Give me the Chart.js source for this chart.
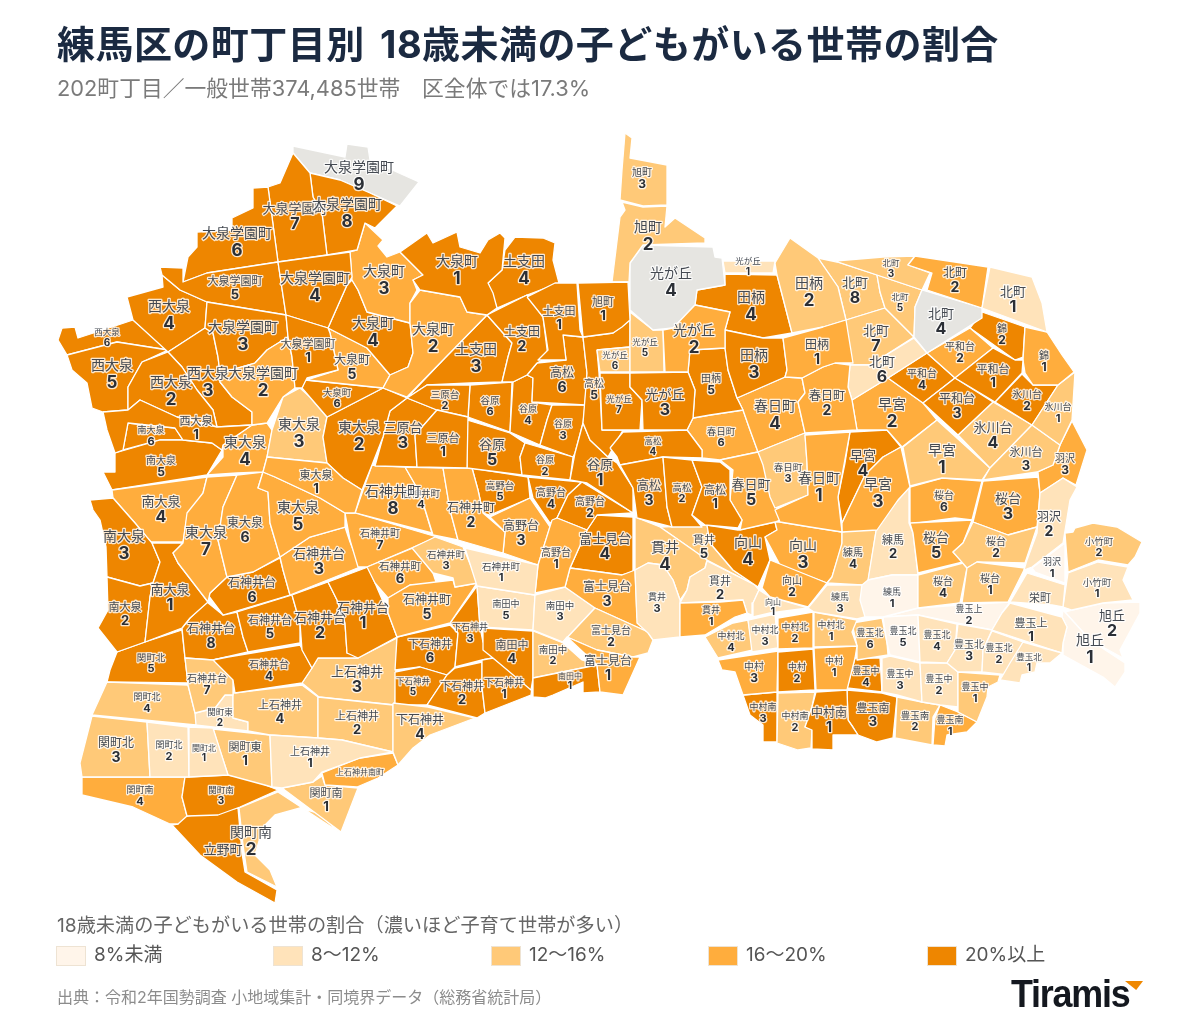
<!DOCTYPE html>
<html lang="ja">
<head>
<meta charset="utf-8">
<title>練馬区の町丁目別 18歳未満の子どもがいる世帯の割合</title>
<script src="https://cdn.jsdelivr.net/npm/chart.js@4"></script>
<style>
html, body { margin: 0; padding: 0; background: #fff; }
body { width: 1200px; height: 1033px; position: relative; overflow: hidden; font-family: Inter, "Noto Sans CJK JP", sans-serif; }
#chart_map { position: absolute; left: 0; top: 0; }
.abs { position: absolute; white-space: nowrap; }
#title { left: 57px; top: 17px; font-size: 38px; font-weight: 700; color: #1b2a41; line-height: 54px; word-spacing: 6px; letter-spacing: 0.45px; }
#subtitle { left: 57px; top: 73px; font-size: 21.8px; color: #7a7a7a; line-height: 30px; }
#legend_title { left: 57px; top: 911px; font-size: 19.2px; color: #666; line-height: 28px; }
.swatch { position: absolute; top: 946px; width: 28px; height: 18px; border: 1px solid #eee3d3; }
.swatch_label { position: absolute; top: 941px; font-size: 19px; color: #555; line-height: 28px; white-space: nowrap; }
#source { left: 57px; top: 986px; font-size: 16px; color: #8c8c8c; line-height: 22px; }
#logo { left: 1011px; top: 972px; font-family: "Liberation Sans", sans-serif; font-size: 39px; font-weight: 700; color: #14181f; line-height: 44px; letter-spacing: -1.3px; transform-origin: left top; transform: scaleX(0.92); }
#logo_mark { left: 1125px; top: 981px; width: 18px; height: 9px; background: #ef8800; clip-path: polygon(0 0, 100% 0, 62% 100%); }
</style>
</head>
<body>
<canvas id="chart_map" width="1200" height="1033"></canvas>
<div id="title" class="abs">練馬区の町丁目別 18歳未満の子どもがいる世帯の割合</div>
<div id="subtitle" class="abs">202町丁目／一般世帯374,485世帯　区全体では17.3%</div>
<div id="legend_title" class="abs">18歳未満の子どもがいる世帯の割合（濃いほど子育て世帯が多い）</div>
<div id="legend_items"></div>
<div id="source" class="abs">出典：令和2年国勢調査 小地域集計・同境界データ（総務省統計局）</div>
<div id="logo" class="abs">Tiramis</div>
<div id="logo_mark" class="abs"></div>
<script>
const bandLabels = ['8%未満', '8〜12%', '12〜16%', '16〜20%', '20%以上']
const bandColors = ['#fff5ea', '#ffe3ba', '#ffc978', '#ffad3d', '#ee8600']
const noDataColor = '#e6e5e1'

// 町丁目はすべて下の配列と同じ順番
const townNames = [
    '大泉学園町', '西大泉', '大泉町', '東大泉', '南大泉', '三原台', '土支田', '旭町', '光が丘', '高松', '田柄', '谷原',
    '春日町', '北町', '平和台', '錦', '氷川台', '早宮', '羽沢', '桜台', '練馬', '向山', '貫井', '中村北', '中村', '中村南',
    '豊玉北', '豊玉中', '豊玉南', '豊玉上', '栄町', '小竹町', '旭丘', '石神井町', '石神井台', '高野台', '富士見台', '南田中',
    '下石神井', '上石神井', '上石神井南町', '関町北', '関町東', '関町南', '立野町'
]
const townChomeCounts = [
    9, 6, 6, 7, 6, 3, 4, 3, 7, 6, 5, 6,
    6, 8, 4, 2, 4, 4, 3, 6, 4, 4, 5, 4, 3, 3,
    6, 4, 3, 2, 0, 2, 2, 8, 8, 5, 4, 5,
    6, 4, 0, 5, 2, 4, 0
]

// 割合の区分 (0〜4)、-1 はデータなし
const townBands = [
    4, 3, 4, 4, 4, 4, 4, 4, -1,
    4, 4, 4, 4, 4, 4,
    4, 3, 3, 4, 3, 4,
    3, 4, 2, 3, 3, 3, 3,
    4, 4, 4, 3, 4, 4,
    4, 4, 4,
    4, 4, 4, 4,
    4, 2, 2,
    1, 3, 4, -1, 2, 2, 4,
    4, 4, 4, 4, 4, 4,
    3, 2, 4, 4, 4,
    4, 4, 4, 4, 4, 4,
    3, 3, 2, 3, 3, 3,
    1, 3, 2, -1, 2, 1, 2, 2,
    4, 3, 4, 4,
    3, 4,
    2, 4, 2, 2,
    2, 3, 3, 4,
    0, 1, 3,
    2, 2, 3, 2, 3, 3,
    0, 1, 1, 2,
    1, 3, 3, 4,
    3, 1, 1, 2, 2,
    2, 3, 1, 2,
    3, 4, 3,
    4, 2, 4,
    1, 1, 1, 1, 0, 2,
    2, 1, 1, 4,
    3, 2, 4,
    1, 0,
    1,
    1, 2,
    0, 0,
    1, 3, 2, 3, 3, 3, 3, 3,
    4, 4, 3, 4, 4, 4, 2, 4,
    3, 4, 3, 4, 4,
    3, 2, 3, 4,
    4, 2, 1, 4, 1,
    4, 4, 4, 2, 4, 4,
    1, 2, 2, 2,
    3,
    1, 1, 2, 2, 4,
    2, 1,
    2, 2, 4, 3,
    4
]

// 各町丁目の輪郭 [x, y, x, y, ...]
const townOutlines = [
    // 大泉学園町
    [286,315,328,328,330,333,338,370,307,378,302,388,295,388,292,357,288,337],
    [255,363,267,350,288,337,292,357,295,388,283,397,267,423,252,425,252,412,232,397,220,382,220,373],
    [207,302,286,315,288,337,267,350,255,363,220,373,218,357,213,333,205,328],
    [278,262,350,252,352,277,347,285,328,328,286,315],
    [160,267,183,268,183,282,207,273,278,262,286,315,207,302,180,290,162,275],
    [268,187,278,262,207,273,183,282,188,257,197,247,197,232,232,230,232,218,253,208,253,188],
    [293,153,310,173,313,197,322,213,327,255,278,262,268,187,280,183],
    [310,173,340,180,370,193,397,206,375,228,365,223,357,250,327,255,322,213,313,197],
    [293,146,345,157,347,144,368,147,370,160,419,182,400,206,370,193,340,180,310,173,293,153],
    // 西大泉
    [103,412,128,410,140,400,177,417,217,427,252,425,223,445,222,450,212,443,183,440,175,428,128,423,123,450,115,453,107,430],
    [142,362,168,352,182,367,197,390,213,410,217,427,177,417,140,400,128,410,128,387],
    [168,352,205,328,213,333,218,357,220,373,220,382,232,397,252,412,252,425,217,427,213,410,197,390,182,367],
    [127,297,163,287,162,275,180,290,207,302,205,328,168,352,133,320],
    [67,355,117,342,168,350,142,362,128,387,128,410,103,412,92,408,87,383,72,370],
    [62,328,75,327,78,338,112,327,133,320,168,350,117,342,67,355,58,340],
    // 大泉町
    [400,252,427,233,433,243,457,232,460,247,480,253,488,240,500,233,505,238,502,270,488,283,493,293,497,308,487,315,467,312,460,297,420,290,413,280,423,275],
    [410,303,420,290,460,297,467,312,487,315,443,360,407,397,383,388,390,375,408,367,413,353,410,323],
    [365,223,383,240,378,246,387,257,400,252,423,275,413,280,417,290,410,303,410,323,367,312,358,290,352,280,350,252,357,250],
    [352,280,358,290,367,312,410,323,413,353,408,367,390,375,367,348,328,328,347,285],
    [328,328,367,348,390,375,383,388,307,380,338,370,330,333],
    [305,380,383,388,327,417,302,388],
    // 東大泉
    [267,457,327,463,343,478,362,490,355,513,345,513,320,498,275,477,263,472],
    [327,417,383,388,407,398,390,411,383,437,372,465,362,490,343,478,327,463,323,437],
    [300,388,310,397,327,417,323,437,327,463,267,457,272,430,283,397],
    [207,475,223,457,223,445,252,425,267,423,272,430,267,457,263,472,237,473],
    [263,472,275,477,320,498,345,513,345,527,310,537,280,557,270,523,268,492,258,488],
    [237,475,263,472,258,488,268,492,270,523,280,557,253,572,227,577,218,540,223,507],
    [237,475,223,507,218,540,227,577,210,593,208,602,178,563,173,553,183,543,187,513,203,493,207,477],
    // 南大泉
    [152,543,183,543,173,553,178,563,208,602,190,618,182,628,145,642,150,597,153,583,160,562],
    [107,577,140,586,153,583,150,597,145,642,117,652,98,628,108,610],
    [90,500,113,498,135,523,152,543,160,562,153,583,140,586,107,577,106,547,100,520,93,510],
    [112,490,207,477,203,493,187,517,183,542,150,542,135,523,113,498],
    [115,453,160,440,183,440,212,443,222,450,207,475,112,490,103,472,115,472],
    [128,423,175,428,183,440,160,440,123,450],
    // 三原台
    [437,410,468,417,467,468,417,467,415,435],
    [407,398,427,385,470,385,468,417,437,410],
    [407,398,437,410,415,435,417,467,375,466,383,437,390,411],
    // 土支田
    [527,297,555,283,577,283,580,330,583,337,563,335,566,360,538,360,548,350,543,317],
    [487,315,527,295,543,317,548,357,537,363,527,375,513,382,502,382,508,357,512,343,503,333],
    [487,315,503,333,512,343,508,357,502,382,470,383,427,385,407,398,443,360],
    [515,237,543,238,555,243,553,260,559,283,527,295,497,308,488,283,502,270,505,250],
    // 旭町
    [578,283,628,282,630,320,622,327,613,333,583,337],
    [622,202,643,207,667,206,665,227,675,218,705,238,705,243,643,245,630,263,629,282,612,282,620,217,625,210],
    [625,133,632,138,630,158,667,165,667,205,643,206,620,200,622,170],
    // 光が丘
    [723,261,775,261,773,273,725,273],
    [695,305,730,312,725,330,725,348,690,350,688,372,665,372,663,330,673,328],
    [630,373,688,372,695,390,693,418,687,430,643,430,642,400,630,387],
    [643,245,713,247,715,257,722,258,725,285,697,290,695,305,673,328,653,330,630,310,630,263],
    [630,312,653,330,663,330,664,372,630,372],
    [597,350,630,347,630,372,600,372],
    [600,373,630,373,630,387,642,400,640,430,602,430],
    // 高松
    [692,460,720,462,730,470,730,500,742,520,738,528,705,525,692,515,702,487],
    [663,457,692,460,702,487,692,515,702,527,672,527,667,507],
    [620,465,663,457,667,507,672,527,637,518,633,488],
    [610,448,623,432,687,430,702,450,702,458,663,457,620,465,617,457],
    [583,337,613,333,630,320,630,347,597,350,599,373,602,430,623,430,608,457,590,440,583,423,587,373],
    [563,335,583,337,587,373,585,405,532,402,533,378,527,375,537,363,566,360],
    // 田柄
    [783,338,823,327,846,320,853,363,835,363,823,367,802,378,785,377,787,370],
    [775,263,790,238,818,258,838,287,846,320,823,327,792,333,777,275],
    [725,330,763,338,783,338,787,370,785,377,737,398,728,370,725,348],
    [725,274,777,275,792,333,763,338,725,330,730,312,695,305,697,290,725,285],
    [690,350,725,348,728,370,737,398,743,410,710,415,693,418,695,390,688,372],
    // 谷原
    [583,423,590,440,608,457,617,463,633,488,633,513,587,483,570,480,575,453],
    [525,443,573,457,570,480,522,475,520,457],
    [552,405,585,405,583,423,575,453,573,457,540,445,547,420],
    [513,382,527,375,533,378,532,402,552,405,547,420,540,445,510,432],
    [467,420,510,433,525,443,520,457,522,475,467,468],
    [470,385,512,382,510,432,468,417],
    // 春日町
    [805,435,850,432,838,497,842,532,810,527,780,522,775,510,808,495,807,463],
    [802,378,823,367,835,363,850,365,848,387,852,400,857,430,805,433,798,402,805,393],
    [758,452,770,447,805,433,807,463,808,495,775,508,770,497,763,465],
    [737,398,785,377,802,378,805,393,798,402,805,433,770,447,758,452,750,430,743,410],
    [720,460,758,452,765,465,780,520,775,522,740,530,742,520,730,500,733,470],
    [693,418,710,415,743,410,750,430,758,452,720,460,702,458,702,450,687,430],
    // 北町
    [990,267,1032,277,1042,303,1047,332,982,308],
    [915,256,988,267,982,308,927,290,932,273,908,265],
    [835,261,883,257,915,256,908,265,930,273,922,290,877,275],
    [922,290,982,308,982,318,927,353,914,337,915,307],
    [877,275,922,290,915,307,914,337,885,308,880,292],
    [850,365,870,365,914,338,927,353,888,378,852,400,848,387],
    [846,320,885,308,914,337,870,365,850,365],
    [818,258,837,262,877,275,880,292,885,308,846,320,838,287],
    // 平和台
    [993,348,1015,360,1023,360,1022,373,995,402,955,378],
    [927,353,970,328,993,348,955,378],
    [955,378,993,402,958,435,923,403],
    [888,378,927,353,955,378,923,403],
    // 錦
    [1025,327,1047,332,1062,355,1074,372,1058,385,1033,385,1025,373,1023,360],
    [982,312,1025,327,1023,357,1015,360,970,328],
    // 氷川台
    [1075,372,1072,420,1060,445,1032,425,1058,385],
    [1022,374,1033,385,1058,385,1032,425,995,402],
    [1032,425,1060,445,1053,465,1037,472,983,480,990,468],
    [993,402,1032,425,990,468,958,435],
    // 早宮
    [937,420,990,468,982,480,942,478,910,486,903,447],
    [852,400,888,378,923,403,937,420,902,447,887,430,857,430],
    [901,447,910,487,898,500,877,530,842,532,842,523,865,475,883,457],
    [850,432,887,430,901,447,883,457,865,475,842,523,838,497,845,463],
    // 羽沢
    [1065,543,1065,583,1035,572,1032,568],
    [1040,493,1063,478,1077,487,1070,500,1063,543,1032,567,1024,570,1027,560,1037,533],
    [1072,421,1087,450,1076,485,1063,478,1040,493,1038,472,1053,465,1060,445],
    // 桜台
    [967,568,977,562,1025,568,1008,602,962,603],
    [973,522,1008,535,1037,527,1025,563,977,562,967,568,953,552,963,543],
    [983,481,1038,477,1040,493,1037,527,1008,535,973,522],
    [918,575,963,563,967,568,960,603,918,608],
    [910,523,972,520,963,543,953,552,963,562,918,573,913,533],
    [910,487,942,478,982,481,972,520,955,518,910,524],
    // 練馬
    [868,580,892,575,918,575,918,608,883,617,865,617,860,600,862,585],
    [898,500,909,487,909,523,913,533,918,575,892,575,868,580,877,525],
    [808,608,827,585,862,585,865,617,857,619,814,612],
    [842,532,877,525,868,582,862,585,827,583,832,577,842,543],
    // 向山
    [759,590,770,597,808,608,770,613,753,617,753,603],
    [770,560,827,583,808,607,770,597,762,588],
    [775,522,780,522,842,532,842,545,832,577,827,583,780,565,765,537,777,530],
    [707,525,738,530,775,522,777,530,765,537,770,560,758,587,733,570,710,543],
    // 貫井
    [680,603,720,602,743,600,747,613,735,617,705,635,680,637],
    [707,561,755,585,759,590,753,603,752,615,747,613,743,600,680,603,687,590,690,577,705,568],
    [635,570,648,563,663,565,673,580,680,600,680,637,653,640,648,633,637,623],
    [635,517,660,527,693,550,707,560,705,568,690,577,687,590,680,600,673,580,663,565,648,563,635,570],
    [660,527,707,525,710,543,733,570,755,585,707,560,693,550],
    // 中村北
    [814,612,857,620,852,632,857,646,814,647],
    [778,618,813,612,813,648,778,649],
    [748,620,775,614,778,648,752,652],
    [705,637,733,623,748,620,753,650,718,658],
    // 中村
    [814,648,857,646,855,658,847,690,816,690],
    [778,652,813,649,815,690,778,692],
    [718,660,778,651,777,692,743,695,735,672,722,670],
    // 中村南
    [816,692,847,690,848,720,858,735,833,735,833,750,812,749,812,730,805,727,812,707],
    [778,693,815,692,812,707,805,727,812,730,811,748,798,750,777,743],
    [743,695,777,692,777,742,763,742,763,725,750,715],
    // 豊玉北
    [1023,642,1062,653,1050,663,1037,663,1035,672,1022,675,1020,683,1000,680,1010,663],
    [992,631,1023,642,1008,675,982,672,983,650],
    [958,624,992,630,983,650,982,672,958,672,947,663,955,650],
    [918,615,957,624,955,650,947,663,920,662],
    [883,617,918,615,920,662,890,655,887,643],
    [852,623,882,618,887,643,888,655,857,660,857,646],
    // 豊玉中
    [958,672,1000,675,998,682,988,687,987,697,977,722,958,712],
    [920,663,947,663,958,672,958,707,940,705,922,702],
    [882,658,890,656,920,663,922,702,897,695,882,692],
    [855,658,880,658,882,692,847,688],
    // 豊玉南
    [940,705,958,712,977,722,967,732,947,735,945,746,933,745,935,718],
    [897,697,922,702,940,705,933,717,932,745,895,738],
    [847,690,882,693,897,697,893,738,877,742,858,735,853,727,848,720],
    // 豊玉上
    [1010,603,1062,617,1067,627,1063,643,1062,653,992,630,1002,613],
    [883,617,918,608,960,605,1010,602,1002,613,992,630,957,623,918,615],
    // 栄町
    [1027,573,1065,585,1063,607,1052,605,1010,602],
    // 小竹町
    [1068,573,1098,562,1128,567,1123,580,1133,600,1103,603,1072,610,1063,607],
    [1065,533,1073,532,1075,528,1093,523,1117,527,1142,542,1135,557,1128,565,1098,560,1068,572],
    // 旭丘
    [1063,610,1090,640,1125,663,1125,672,1115,687,1103,677,1063,655,1063,643,1067,627,1062,617],
    [1072,610,1103,603,1140,602,1140,613,1120,650,1123,658,1090,640,1065,612],
    // 石神井町
    [465,548,538,565,535,595,477,586],
    [443,468,472,468,478,490,483,513,505,532,503,553,458,540,450,510],
    [412,548,435,537,463,547,478,583,455,587,453,578,433,573],
    [405,467,443,468,450,510,458,540,433,535,420,493],
    [388,598,410,585,453,580,455,587,477,583,450,623,397,637,388,613],
    [367,567,413,548,433,573,437,585,410,585,388,598,375,583],
    [345,513,355,513,437,537,367,567,358,567,350,540],
    [372,465,405,467,420,493,432,533,355,513],
    // 石神井台
    [328,582,368,567,375,583,388,613,397,637,358,658,347,653,345,623,337,600],
    [292,595,328,582,337,600,345,623,347,653,357,653,358,658,318,658,312,668,302,650,300,623],
    [280,557,310,537,345,527,350,542,360,567,290,595,283,570],
    [213,660,228,657,300,645,312,668,302,683,235,693,233,680],
    [237,612,292,595,300,623,300,643,248,652,243,637],
    [208,595,227,577,253,572,280,558,283,570,290,595,223,615],
    [185,658,213,660,228,657,233,680,233,695,225,695,215,708,195,713,188,685],
    [207,602,223,615,237,612,243,637,248,652,213,660,185,658,182,628,190,618],
    // 高野台
    [552,520,557,518,587,530,570,568,565,587,535,593,538,565],
    [582,482,633,513,597,515,587,530,557,518,568,495],
    [490,517,530,498,550,527,538,565,503,553,505,532],
    [528,477,582,482,568,495,557,518,550,523,533,498],
    [472,468,528,477,530,498,490,515,483,513,478,490],
    // 富士見台
    [567,637,597,650,633,657,640,657,623,695,600,692,597,665],
    [563,642,595,608,648,632,653,640,648,653,633,657,597,650,567,637],
    [570,568,600,572,622,575,635,570,637,617,648,632,595,608,565,587],
    [597,515,633,517,633,572,622,575,600,572,570,568,587,530],
    // 南田中
    [533,678,597,665,600,692,583,693,583,682,553,695,545,698,533,697],
    [533,631,563,643,582,660,597,665,533,678],
    [535,595,565,587,595,608,563,642,533,630],
    [483,628,533,631,533,678,531,690,493,658,483,650],
    [477,586,535,595,533,630,480,627],
    // 下石神井
    [482,660,493,658,532,687,531,695,485,713,482,687],
    [455,668,482,662,482,687,485,713,477,718,427,705,447,675],
    [477,586,480,627,483,642,493,658,482,660,455,667,458,633,450,623],
    [393,703,428,707,475,718,430,735,413,748,398,765,393,752],
    [395,672,420,667,447,675,427,705,395,705],
    [397,637,450,625,458,633,455,667,447,675,420,667,395,670],
    // 上石神井
    [270,735,318,738,342,740,393,752,360,758,322,772,313,782,282,788,272,787],
    [318,697,393,705,393,752,342,740,318,738],
    [318,658,358,658,397,638,395,705,319,697,302,683,312,668],
    [302,685,318,697,318,738,270,735,248,731,248,722,233,718,233,693],
    // 上石神井南町
    [322,773,360,758,393,753,398,765,378,778,357,787,325,785],
    // 関町北
    [189,727,213,728,228,775,189,777],
    [147,722,188,727,189,777,150,777],
    [92,716,147,722,150,777,82,777,80,763],
    [107,682,188,685,195,713,196,725,92,715],
    [117,652,145,642,182,630,185,658,188,683,107,682,110,670],
    // 関町東
    [213,729,270,735,272,787,228,775],
    [195,713,215,708,225,695,233,695,233,718,248,722,248,731,195,725],
    // 関町南
    [282,788,313,782,322,776,325,785,358,788,341,832],
    [239,808,278,792,339,832,318,813,300,808,275,815,263,827,255,855,270,870,277,887,247,872,243,845],
    [185,777,228,775,248,778,278,790,240,807,218,815,187,816,182,797],
    [82,777,185,777,182,797,187,816,178,824,170,824,133,807,82,795],
    // 立野町
    [180,817,238,808,242,853,245,872,277,890,275,903,237,882,200,855,172,825,178,824]
]

// 町名ラベルの位置と文字サイズ [x, y, px]
const labelSpots = [
    [308,344,11],[263,373,14],[243,327,14],[315,278,14],[235,281,11],[237,233,14],[295,208,13],[347,204,14],[359,167,14],
    [196,421,11],[171,382,14],[208,373,14],[169,306,14],[112,365,14],[107,332,8.5],
    [457,261,14],[433,329,14],[384,271,14],[373,323,14],[352,359,12],[337,392,9.5],
    [316,475,11],[359,427,14],[299,424,14],[245,442,14],[298,507,14],[245,522,12],[206,532,14],
    [170,589,13],[125,607,11],[124,536,14],[161,501,13],[161,460,10],[151,430,9],
    [443,438,11],[445,394,9.5],[403,427,13],
    [559,311,11],[522,331,12],[476,349,14],[524,261,14],
    [603,302,11],[648,227,14],[642,172,10],
    [748,261,8.5],[694,330,14],[665,394,13],[671,273,14],[645,342,8.5],[615,355,8.5],[619,399,8.5],
    [715,490,11],[682,487,9.5],[649,485,12],[653,441,8.5],[594,383,10],[562,372,12],
    [817,344,12],[809,283,14],[754,355,14],[751,297,14],[711,378,10],
    [600,464,13],[545,460,9],[563,424,9],[528,409,9],[492,444,13],[490,400,9.5],
    [819,478,14],[827,395,12],[788,467,9.5],[775,406,14],[751,484,13],[721,431,9.5],
    [1013,291,13],[955,272,12],[891,263,8.5],[941,313,13],[900,297,8.5],[882,361,13],[876,330,13],[855,282,13],
    [993,369,11],[960,346,10],[957,398,12],[922,373,10],
    [1044,355,10],[1002,328,10],
    [1058,407,9],[1027,394,10],[1026,452,11],[993,427,13],
    [942,450,14],[892,404,14],[878,484,14],[863,455,13],
    [1052,562,9],[1049,516,12],[1065,458,10],
    [990,578,10],[996,541,10],[1008,498,13],[943,581,10],[936,537,13],[944,495,10],
    [892,592,9],[893,540,11],[840,597,9],[853,552,10],
    [773,602,8],[792,580,10],[803,545,14],[748,542,14],
    [711,610,9],[720,581,11],[657,597,9],[665,547,14],[704,540,11],
    [831,625,9],[795,627,9],[765,630,9],[731,636,9],
    [834,661,9],[797,667,9],[754,666,10],
    [829,712,12],[795,716,9],[763,707,9],
    [1029,657,8.5],[999,648,9],[969,644,10],[937,635,9],[903,631,9],[870,633,9],
    [975,687,9],[939,679,9],[900,674,9],[866,671,9],
    [950,720,9],[915,715,9.5],[873,708,11],
    [1031,623,11],[969,609,9],
    [1040,598,11],
    [1097,582,9.5],[1099,541,9.5],
    [1090,640,14],[1112,615,13],
    [501,566,9.5],[471,507,12],[446,554,9.5],[421,493,9.5],[427,599,12],[400,566,10.5],[380,533,10],[393,491,14],
    [363,607,13],[320,617,13],[319,553,13],[269,664,10],[270,620,11],[252,582,12],[207,678,10],[211,628,12],
    [556,552,10],[590,501,10],[521,525,12],[551,492,10],[500,485,9.5],
    [608,660,12],[611,630,10],[607,586,12],[605,538,13],
    [570,676,8],[553,649,9.5],[560,605,9.5],[512,645,11],[506,604,9],
    [504,682,10],[462,686,11],[470,627,9],[420,719,12],[413,681,8.5],[430,644,11],
    [310,751,10],[357,716,11],[357,671,13],[280,705,11],
    [360,772,8],
    [204,748,8],[169,745,9],[116,742,12],[147,697,9],[151,657,9.5],
    [245,747,11],[220,712,8.5],
    [326,793,11],[251,832,14],[221,790,8.5],[140,790,9],
    [223,849,13]
]

function town_list() {
    const list = []
    townNames.forEach((name, i) => {
        const count = townChomeCounts[i]
        if (count == 0) {
            list.push({ name: name, chome: '' })
        }
        for (let chome = 1; chome <= count; chome++) {
            list.push({ name: name, chome: String(chome) })
        }
    })
    return list
}

function outline_points(outline) {
    const points = []
    for (let i = 0; i < outline.length; i += 2) {
        points.push({ x: outline[i], y: outline[i + 1] })
    }
    points.push({ x: outline[0], y: outline[1] })
    return points
}

function band_color(band) {
    return band < 0 ? noDataColor : bandColors[band]
}

const towns = town_list()

// 町名と丁目の数字は塗りの上に書く
const townLabelPlugin = {
    id: 'townLabel',
    afterDatasetsDraw(chart) {
        const ctx = chart.ctx
        const xScale = chart.scales.x
        const yScale = chart.scales.y
        ctx.save()
        ctx.textAlign = 'center'
        ctx.textBaseline = 'middle'
        ctx.lineJoin = 'round'
        towns.forEach((town, i) => {
            const spot = labelSpots[i]
            const x = xScale.getPixelForValue(spot[0])
            const y = yScale.getPixelForValue(spot[1])
            const px = spot[2]
            const numberPx = Math.round(px * 1.2)
            ctx.lineWidth = 2.6
            ctx.strokeStyle = 'rgba(255,255,255,0.8)'
            ctx.fillStyle = '#454a52'
            ctx.font = '400 ' + px + 'px "Noto Sans CJK JP"'
            ctx.strokeText(town.name, x, y)
            ctx.fillText(town.name, x, y)
            if (town.chome != '') {
                const numberY = y + px * 1.28
                ctx.fillStyle = '#2b2f36'
                ctx.font = '700 ' + numberPx + 'px Inter, "Noto Sans CJK JP"'
                ctx.strokeText(town.chome, x, numberY)
                ctx.fillText(town.chome, x, numberY)
            }
        })
        ctx.restore()
    }
}

new Chart(document.getElementById('chart_map'), {
    type: 'scatter',
    data: {
        datasets: towns.map((town, i) => {
            return {
                label: town.name + town.chome,
                data: outline_points(townOutlines[i]),
                showLine: true,
                fill: 'shape',
                tension: 0,
                backgroundColor: band_color(townBands[i]),
                borderColor: '#ffffff',
                borderWidth: 1.3,
                borderJoinStyle: 'round',
                pointRadius: 0,
                pointHoverRadius: 0,
                clip: false
            }
        })
    },
    options: {
        responsive: false,
        animation: false,
        layout: { padding: 0 },
        scales: {
            x: { type: 'linear', display: false, min: 0, max: 1200 },
            y: { type: 'linear', display: false, min: 0, max: 1033, reverse: true }
        },
        plugins: {
            legend: { display: false },
            title: { display: false },
            tooltip: { enabled: false }
        }
    },
    plugins: [townLabelPlugin]
})

// 凡例
const legendLefts = [56, 273, 491, 708, 927]
const legendItems = document.getElementById('legend_items')
bandLabels.forEach((label, i) => {
    const swatch = document.createElement('div')
    swatch.className = 'swatch'
    swatch.style.left = legendLefts[i] + 'px'
    swatch.style.background = bandColors[i]
    legendItems.appendChild(swatch)
    const text = document.createElement('div')
    text.className = 'swatch_label'
    text.style.left = (legendLefts[i] + 38) + 'px'
    text.textContent = label
    legendItems.appendChild(text)
})
</script>
</body>
</html>
